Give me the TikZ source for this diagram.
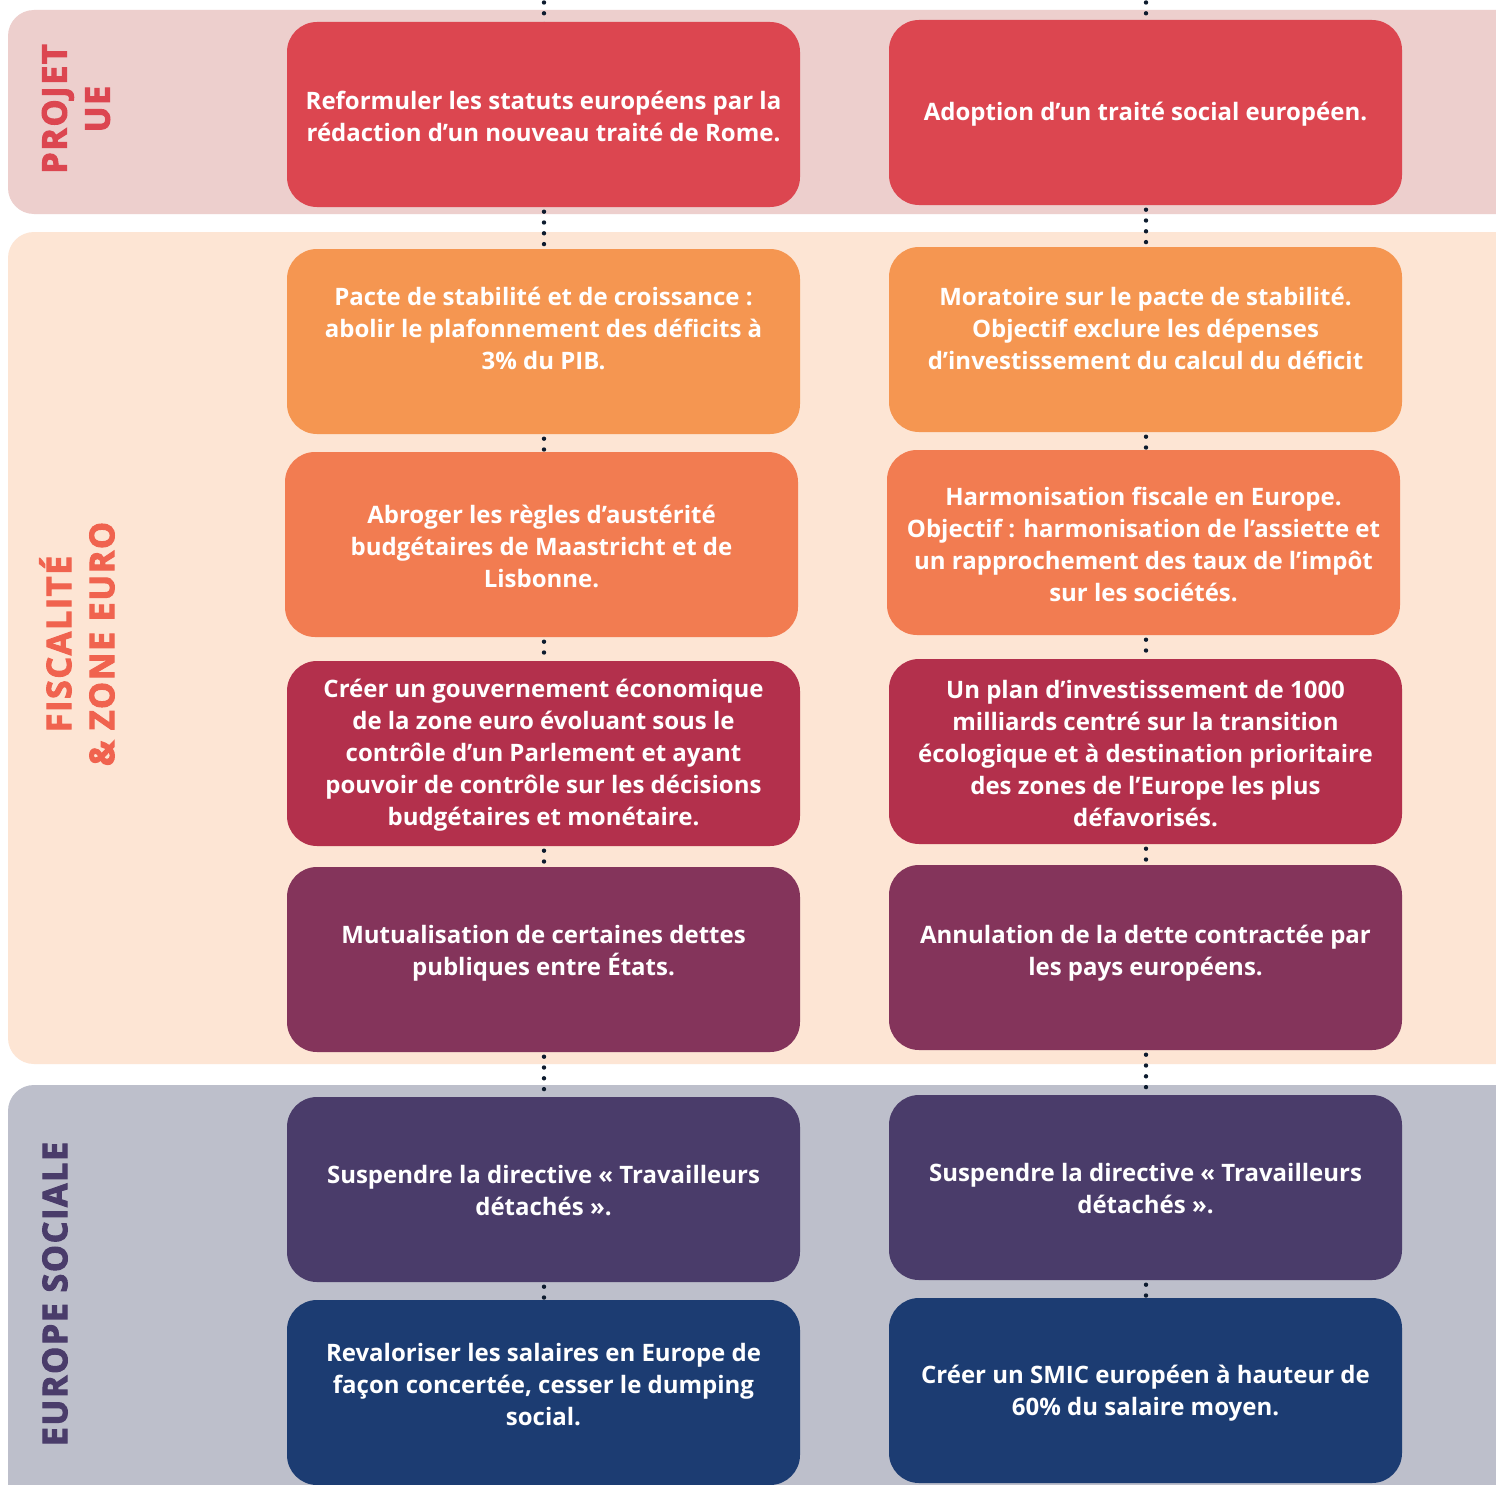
\documentclass[tikz,border=0pt]{standalone}
\usepackage{fontspec}
\setmainfont{Open Sans}
\newfontfamily\labfont{Open Sans}[BoldFeatures={FakeBold=3}, LetterSpace=5]
\usetikzlibrary{calc}
\definecolor{bandA}{HTML}{EDCFCD}
\definecolor{bandB}{HTML}{FDE5D4}
\definecolor{bandC}{HTML}{BDBFCB}
\definecolor{cRed}{HTML}{DC4650}
\definecolor{cOrA}{HTML}{F59651}
\definecolor{cOrB}{HTML}{F27C51}
\definecolor{cCrim}{HTML}{B3304C}
\definecolor{cPlum}{HTML}{84345B}
\definecolor{cPurp}{HTML}{4A3C6A}
\definecolor{cNavy}{HTML}{1C3C72}
\definecolor{labB}{HTML}{F0634F}
\definecolor{dotc}{HTML}{0D1B2E}
\pgfdeclarelayer{bands}
\pgfdeclarelayer{conn}
\pgfsetlayers{bands,conn,main}
\begin{document}
\begin{tikzpicture}[x=1pt,y=-1pt,
  box/.style={fill=#1, rounded corners=30pt, minimum width=513pt, minimum height=185pt, inner sep=0pt, draw=none},
  txt/.style={text=white, font=\fontsize{24}{32}\selectfont\bfseries, align=center, inner sep=0pt},
  dots/.style={draw=dotc, line width=4.4pt, line cap=round, dash pattern=on 0pt off 10.8pt},
  lab/.style={rotate=90, text=#1, font=\labfont\fontsize{34}{43}\selectfont\bfseries, align=center, inner sep=0pt}]
\useasboundingbox (0,0) rectangle (1496,1485);
\clip (0,0) rectangle (1496,1485);
\begin{pgfonlayer}{bands}
\fill[white] (0,0) rectangle (1496,1485);
\fill[bandA, rounded corners=26pt] (8,10) rectangle (1540,214);
\fill[bandB, rounded corners=26pt] (8,232) rectangle (1540,1064);
\fill[bandC, rounded corners=26pt] (8,1085) rectangle (1540,1510);
\end{pgfonlayer}
% section labels
\node[lab=cRed] (labA) at (76,109) {PROJET\\UE};
\node[lab=labB] (labB) at (77,644) {FISCALITÉ\\\& ZONE EURO};
\node[lab=cPurp] (labC) at (55,1294) {EUROPE SOCIALE};
% left column
\node[box=cRed]  (L1) at (543.5,114.5) {};
\node[box=cOrA]  (L2) at (543.5,341.5) {};
\node[box=cOrB]  (L3) at (541.5,544.5) {};
\node[box=cCrim] (L4) at (543.5,753.5) {};
\node[box=cPlum] (L5) at (543.5,959.5) {};
\node[box=cPurp] (L6) at (543.5,1189.5) {};
\node[box=cNavy] (L7) at (543.5,1392.5) {};
% right column
\node[box=cRed]  (R1) at (1145.5,112.5) {};
\node[box=cOrA]  (R2) at (1145.5,339.5) {};
\node[box=cOrB]  (R3) at (1143.5,542.5) {};
\node[box=cCrim] (R4) at (1145.5,751.5) {};
\node[box=cPlum] (R5) at (1145.5,957.5) {};
\node[box=cPurp] (R6) at (1145.5,1187.5) {};
\node[box=cNavy] (R7) at (1145.5,1390.5) {};
% texts
\node[txt] (tL1) at (543.5,116) {Reformuler les statuts européens par la\\rédaction d’un nouveau traité de Rome.};
\node[txt] (tL2) at (543.5,328) {Pacte de stabilité et de croissance :\\abolir le plafonnement des déficits à\\3\% du PIB.};
\node[txt] (tL3) at (541.5,546) {Abroger les règles d’austérité\\budgétaires de Maastricht et de\\Lisbonne.};
\node[txt] (tL4) at (543.5,755) {Créer un gouvernement économique\\de la zone euro évoluant sous le\\contrôle d’un Parlement et ayant\\pouvoir de contrôle sur les décisions\\budgétaires et monétaire.};
\node[txt] (tL5) at (543.5,953) {Mutualisation de certaines dettes\\publiques entre États.};
\node[txt] (tL6) at (543.5,1191) {Suspendre la directive « Travailleurs\\détachés ».};
\node[txt] (tL7) at (543.5,1385) {Revaloriser les salaires en Europe de\\façon concertée, cesser le dumping\\social.};
\node[txt] (tR1) at (1145.5,114) {Adoption d’un traité social européen.};
\node[txt] (tR2) at (1145.5,328) {Moratoire sur le pacte de stabilité.\\Objectif exclure les dépenses\\d’investissement du calcul du déficit};
\node[txt] (tR3) at (1143.5,544) {Harmonisation fiscale en Europe.\\Objectif : harmonisation de l’assiette et\\un rapprochement des taux de l’impôt\\sur les sociétés.};
\node[txt] (tR4) at (1145.5,753.5) {Un plan d’investissement de 1000\\milliards centré sur la transition\\écologique et à destination prioritaire\\des zones de l’Europe les plus\\défavorisés.};
\node[txt] (tR5) at (1145.5,953) {Annulation de la dette contractée par\\les pays européens.};
\node[txt] (tR6) at (1145.5,1189) {Suspendre la directive « Travailleurs\\détachés ».};
\node[txt] (tR7) at (1145.5,1393) {Créer un SMIC européen à hauteur de\\60\% du salaire moyen.};
% dotted connectors
\coordinate (topL) at (544,2.5);
\coordinate (topR) at (1146,2.5);
\begin{pgfonlayer}{conn}
\draw[dots] (topL) -- (topL |- L1.center);
\draw[dots] (topL |- L1.center) -- (topL |- L2.center);
\draw[dots] (topL |- L2.center) -- (topL |- L3.center);
\draw[dots] (topL |- L3.center) -- (topL |- L4.center);
\draw[dots] (topL |- L4.center) -- (topL |- L5.center);
\draw[dots] (topL |- L5.center) -- (topL |- L6.center);
\draw[dots] (topL |- L6.center) -- (topL |- L7.center);
\draw[dots] (topR) -- (topR |- R1.center);
\draw[dots] (topR |- R1.center) -- (topR |- R2.center);
\draw[dots] (topR |- R2.center) -- (topR |- R3.center);
\draw[dots] (topR |- R3.center) -- (topR |- R4.center);
\draw[dots] (topR |- R4.center) -- (topR |- R5.center);
\draw[dots] (topR |- R5.center) -- (topR |- R6.center);
\draw[dots] (topR |- R6.center) -- (topR |- R7.center);
\end{pgfonlayer}
\end{tikzpicture}
\end{document}
